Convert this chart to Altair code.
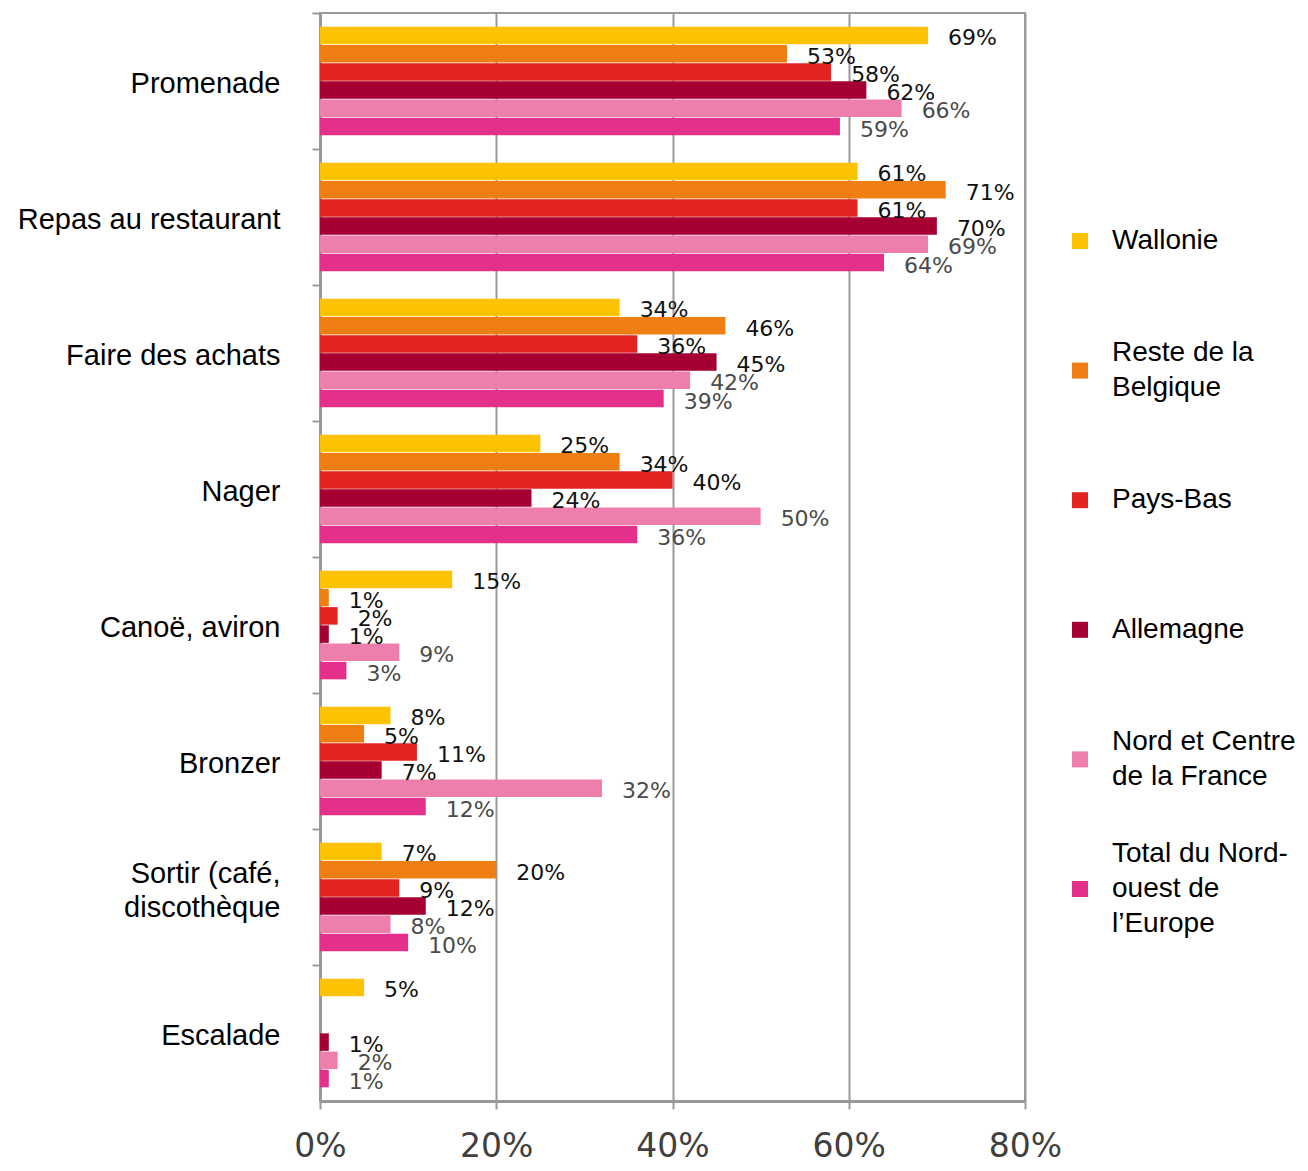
import altair as alt
import pandas as pd

categories = ["Promenade", "Repas au restaurant", "Faire des achats", "Nager",
              "Canoë, aviron", "Bronzer", "Sortir (café,\ndiscothèque", "Escalade"]
series = ["Wallonie", "Reste de la\nBelgique", "Pays-Bas", "Allemagne",
          "Nord et Centre\nde la France", "Total du Nord-\nouest de\nl’Europe"]
colors = ["#FDC300", "#EF7F13", "#E32322", "#A60033", "#EE7FAD", "#E4308A"]

wallonie = [69, 61, 34, 25, 15, 8, 7, 5]
reste_belgique = [53, 71, 46, 34, 1, 5, 20, None]
pays_bas = [58, 61, 36, 40, 2, 11, 9, None]
allemagne = [62, 70, 45, 24, 1, 7, 12, 1]
nord_centre_france = [66, 69, 42, 50, 9, 32, 8, 2]
total_nord_ouest = [59, 64, 39, 36, 3, 12, 10, 1]

values = [wallonie, reste_belgique, pays_bas, allemagne, nord_centre_france, total_nord_ouest]

rows = []
for s, vals in zip(series, values):
    for c, v in zip(categories, vals):
        if v is not None:
            rows.append({"activite": c, "pays": s, "valeur": v})
df = pd.DataFrame(rows)

legend_df = pd.DataFrame({
    "pays": series,
    "lignes": [len(s.split("\n")) for s in series],
})

color_scale = alt.Scale(domain=series, range=colors)

y_enc = alt.Y(
    "activite:N",
    sort=categories,
    scale=alt.Scale(domain=categories, paddingInner=0, paddingOuter=0),
    axis=alt.Axis(
        title=None, bandPosition=0, domainColor="#999999", domainWidth=3,
        tickColor="#999999", tickWidth=2, tickSize=8, labelFont="Liberation Sans",
        labelFontSize=29, labelColor="#000000", labelPadding=32, labelLineHeight=34,
        labelExpr="split(datum.label, '\\n')", grid=False, labelLimit=400,
        labelOffset=alt.condition("indexof(datum.value, '\\n') >= 0",
                                  alt.value(-23), alt.value(3)),
    ),
)
yoff_enc = alt.YOffset(
    "pays:N", sort=series,
    scale=alt.Scale(domain=series, paddingOuter=0.75, paddingInner=0.04),
)
x_enc = alt.X(
    "valeur:Q",
    scale=alt.Scale(domain=[0, 80], nice=False),
    axis=alt.Axis(
        title=None, values=[0, 20, 40, 60, 80], labelExpr="datum.value + '%'",
        domainColor="#999999", domainWidth=3, tickColor="#999999", tickWidth=2,
        tickSize=8, gridColor="#999999", gridWidth=2, labelFont="DejaVu Sans",
        labelFontSize=33, labelColor="#404040", labelPadding=21, labelFlush=False,
    ),
)

bars = alt.Chart(df).mark_bar().encode(
    x=x_enc,
    y=y_enc,
    yOffset=yoff_enc,
    color=alt.Color("pays:N", scale=color_scale, legend=None),
)

labels = alt.Chart(df).transform_calculate(
    txt="datum.valeur + '%'"
).mark_text(
    align="left", baseline="middle", dx=20, dy=3, font="DejaVu Sans", fontSize=22
).encode(
    x="valeur:Q",
    y=alt.Y("activite:N", sort=categories),
    yOffset=alt.YOffset("pays:N", sort=series),
    text="txt:N",
    color=alt.condition(
        alt.FieldOneOfPredicate(field="pays", oneOf=series[4:]),
        alt.value("#4a4a4a"), alt.value("#111111"),
    ),
)

main = alt.layer(bars, labels).properties(
    width=705, height=1088,
    view=alt.ViewBackground(stroke="#999999", strokeWidth=2),
)

leg_y = alt.Y("pays:N", sort=series, axis=None,
              scale=alt.Scale(type="point", domain=series, range=[228, 876], padding=0))

leg_sym = alt.Chart(legend_df).mark_square(size=256, opacity=1).encode(
    x=alt.value(16),
    y=leg_y,
    color=alt.Color("pays:N", scale=color_scale, legend=None),
)

leg_texts = []
for n in [1, 2, 3]:
    leg_texts.append(
        alt.Chart(legend_df).transform_filter(f"datum.lignes == {n}").mark_text(
            align="left", baseline="middle", font="Liberation Sans", fontSize=28,
            lineBreak="\n", lineHeight=35, dy=-(n - 1) * 35 / 2, color="#000000",
        ).encode(
            x=alt.value(48),
            y=leg_y,
            text="pays:N",
        )
    )

legend = alt.layer(leg_sym, *leg_texts).properties(
    width=230, height=1088,
    view=alt.ViewBackground(stroke=None),
)

chart = alt.hconcat(main, legend, spacing=39, bounds="flush").properties(
    padding={"left": 8, "top": 3, "right": 0, "bottom": 0},
).configure_view(stroke=None)

chart.save("out.html", embed_options={"renderer": "svg", "actions": False})
